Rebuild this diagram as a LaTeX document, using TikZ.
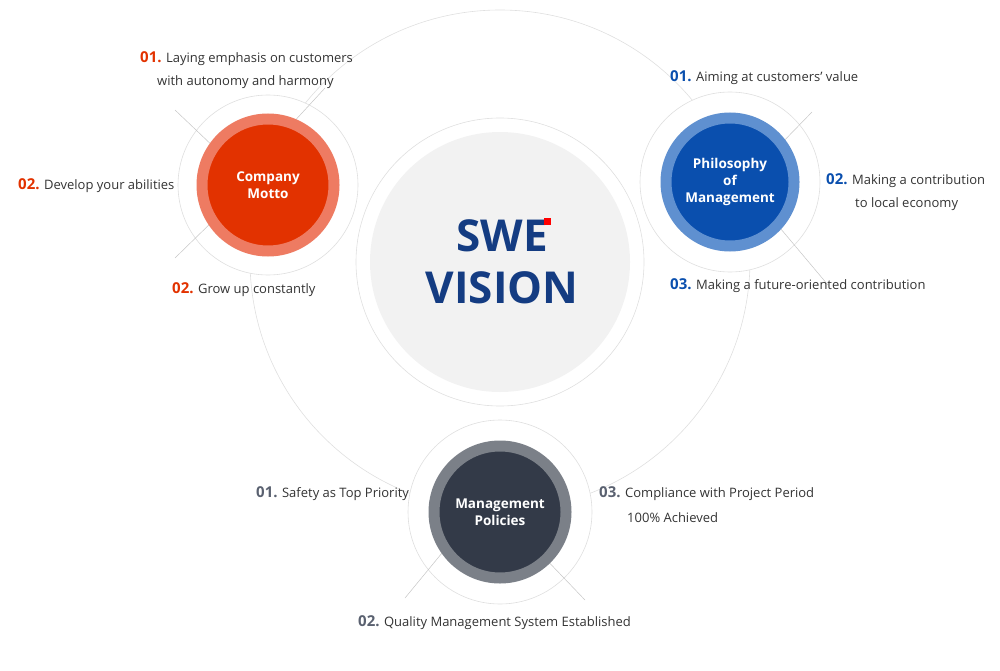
\documentclass[tikz,border=0pt]{standalone}
\usepackage{fontspec}
\setmainfont{Open Sans}
\usetikzlibrary{positioning}
\definecolor{mottored}{HTML}{E23200}
\definecolor{mottoring}{HTML}{EE7B62}
\definecolor{philblue}{HTML}{0A4FAE}
\definecolor{philring}{HTML}{5F90D0}
\definecolor{policydark}{HTML}{333A48}
\definecolor{policyring}{HTML}{7B8088}
\definecolor{visionblue}{HTML}{143C82}
\definecolor{numgray}{HTML}{5A6170}
\newcommand{\numtag}[2]{\textcolor{#1}{\bfseries\fontsize{15}{17}\selectfont #2}}
\begin{document}
\begin{tikzpicture}[
    x=1pt, y=-1pt,
    thin circle/.style={draw=gray!25, line width=0.6pt},
    leader/.style={draw=gray!45, line width=0.5pt},
    hub/.style={circle, draw, line width=11pt, text=white, align=center, font=\fontsize{13.5}{17}\selectfont\bfseries},
    item/.style={font=\fontsize{13}{18}\selectfont, text=black!80, align=left, inner sep=0pt},
]
\useasboundingbox (0,0) rectangle (1000,671);

% Big rings
\draw[thin circle] (500,260) circle (250);
\draw[thin circle] (500,262) circle (144);
\fill[gray!10] (500,262) circle (130);

% Vision text
\node[font=\fontsize{44}{52}\selectfont\bfseries, text=visionblue, align=center] (vision) at (502,262) {SWE\\VISION};
\fill[red] (544,218) rectangle (551,225);

% Outer thin circles of the hubs
\draw[thin circle, fill=white] (268,185) circle (90);
\draw[thin circle, fill=white] (730,182) circle (90);
\draw[thin circle, fill=white] (500,512) circle (92);

% Leader lines
\draw[leader] (175,110) -- (217,150);
\draw[leader] (175,258) -- (218,216);
\draw[leader] (290,126) -- (325,88);
\draw[leader] (775,150) -- (812,112);
\draw[leader] (775,222) -- (828,285);
\draw[leader] (442,553) -- (405,598);
\draw[leader] (540,553) -- (585,600);

% Hubs
\node[hub, fill=mottored, draw=mottoring, minimum size=132pt] (motto) at (268,185) {Company\\Motto};
\node[hub, fill=philblue, draw=philring, minimum size=128pt] (phil) at (730,182) {Philosophy\\of\\Management};
\node[hub, fill=policydark, draw=policyring, minimum size=132pt] (policy) at (500,512) {Management\\Policies};

% Company motto items
\node[item, anchor=west] (m1) at (140,59) {\numtag{mottored}{01.} Laying emphasis on customers};
\node[item, anchor=west] (m1b) at (157,82) {with autonomy and harmony};
\node[item, anchor=west] (m2) at (18,186) {\numtag{mottored}{02.} Develop your abilities};
\node[item, anchor=west] (m3) at (172,290) {\numtag{mottored}{02.} Grow up constantly};

% Philosophy items
\node[item, anchor=west] (p1) at (670,78) {\numtag{philblue}{01.} Aiming at customers' value};
\node[item, anchor=west] (p2) at (826,181) {\numtag{philblue}{02.} Making a contribution};
\node[item, anchor=west] (p2b) at (855,204) {to local economy};
\node[item, anchor=west] (p3) at (670,286) {\numtag{philblue}{03.} Making a future-oriented contribution};

% Policy items
\node[item, anchor=west] (q1) at (256,494) {\numtag{numgray}{01.} Safety as Top Priority};
\node[item, anchor=west] (q3) at (599,494) {\numtag{numgray}{03.} Compliance with Project Period};
\node[item, anchor=west] (q3b) at (627,518) {100\% Achieved};
\node[item, anchor=west] (q2) at (358,623) {\numtag{numgray}{02.} Quality Management System Established};
\end{tikzpicture}
\end{document}
